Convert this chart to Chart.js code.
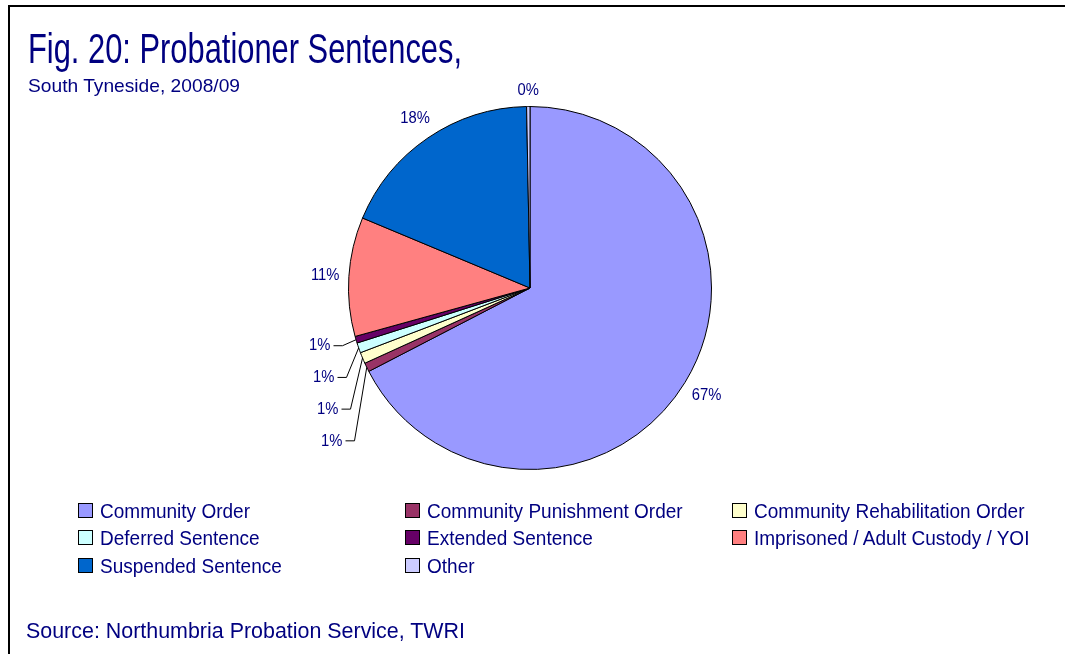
<!DOCTYPE html>
<html><head><meta charset="utf-8">
<script src="https://cdn.jsdelivr.net/npm/chart.js"></script>
<style>
html,body{margin:0;padding:0;background:#fff;}
#wrap{position:relative;width:1065px;height:654px;overflow:hidden;font-family:"Liberation Sans",Arial,sans-serif;color:#000080;background:#fff;}
#frame{position:absolute;left:8px;top:5px;width:1200px;height:800px;border-left:2px solid #000;border-top:2px solid #000;box-sizing:border-box;}
#c{position:absolute;left:0;top:0;}
.txt{position:absolute;white-space:nowrap;transform-origin:0 0;line-height:1;}
.sw{position:absolute;width:15px;height:15px;box-sizing:border-box;border:1.5px solid #000;}
</style>
</head><body>
<div id="wrap">
  <div id="frame"></div>
  <canvas id="c" width="1065" height="654"></canvas>
  <div id="title" class="txt" style="left:28px;font-size:42px;"></div>
  <div id="subtitle" class="txt" style="left:28px;font-size:19px;"></div>
  <div id="source" class="txt" style="left:26px;font-size:22px;"></div>
  <div id="legend"></div>
</div>
<script>
// ---- data ----
const titleText = "Fig. 20: Probationer Sentences,";
const subtitleText = "South Tyneside, 2008/09";
const sourceText = "Source: Northumbria Probation Service, TWRI";
const categories = ["Community Order","Community Punishment Order","Community Rehabilitation Order","Deferred Sentence","Extended Sentence","Imprisoned / Adult Custody / YOI","Suspended Sentence","Other"];
const values = [67.4, 0.8, 1.0, 0.9, 0.6, 10.6, 18.4, 0.3];
const colors = ["#9999FF","#993366","#FFFFCC","#CCFFFF","#660066","#FF8080","#0066CC","#CCCCFF"];

// ---- text placement (baseline based) ----
function placeText(el, text, baseline, targetW){
  el.textContent = text;
  const fs = parseFloat(el.style.fontSize);
  el.style.top = (baseline - 0.846*fs) + "px";
  const w = el.getBoundingClientRect().width;
  if (targetW) el.style.transform = "scaleX(" + (targetW / w) + ")";
  return targetW ? targetW / w : 1;
}
placeText(document.getElementById("title"), titleText, 64, 434);
placeText(document.getElementById("subtitle"), subtitleText, 92, 212);
placeText(document.getElementById("source"), sourceText, 639, 439);

// legend
const legend = document.getElementById("legend");
const colX = [78, 405, 732];
const rowY = [510, 537.5, 565];
let legScale = null;
categories.forEach((name, i) => {
  const col = i % 3, row = Math.floor(i / 3);
  const sw = document.createElement("div");
  sw.className = "sw";
  sw.style.left = colX[col] + "px";
  sw.style.top = (rowY[row] - 7.5) + "px";
  sw.style.background = colors[i];
  legend.appendChild(sw);
  const t = document.createElement("div");
  t.className = "txt";
  t.style.fontSize = "20px";
  t.style.left = (colX[col] + 22) + "px";
  t.textContent = name;
  t.style.top = (rowY[row] + 7.5 - 0.846*20) + "px";
  legend.appendChild(t);
  if (legScale === null) {
    legScale = 150 / t.getBoundingClientRect().width;
  }
  t.style.transform = "scaleX(" + legScale + ")";
});

// ---- data label plugin ----
const labelPlugin = {
  id: "pieLabels",
  afterDatasetsDraw(chart) {
    const ctx = chart.ctx;
    const meta = chart.getDatasetMeta(0);
    const total = values.reduce((a, b) => a + b, 0);
    ctx.save();
    ctx.font = "17px 'Liberation Sans', Arial, sans-serif";
    ctx.fillStyle = "#000080";
    ctx.strokeStyle = "#000";
    ctx.lineWidth = 1;
    const sx = 0.87;
    const leaders = [];
    meta.data.forEach((arc, i) => {
      const frac = values[i] / total;
      const mid = (arc.startAngle + arc.endAngle) / 2; // canvas angle
      let deg = ((mid + Math.PI / 2) * 180 / Math.PI) % 360;
      if (deg < 0) deg += 360;
      const txt = Math.round(frac * 100) + "%";
      if (frac < 0.015 && deg > 180 && deg < 270) {
        leaders.push({arc, mid, txt, deg});
        return;
      }
      const c = Math.cos(mid), s = Math.sin(mid);
      const w = ctx.measureText(txt).width * sx, h = 14;
      const d = arc.outerRadius + 9 + Math.abs(c) * w / 2 + Math.abs(s) * h / 2;
      const x = arc.x + c * d, y = arc.y + s * d;
      ctx.save();
      ctx.translate(x, y);
      ctx.scale(sx, 1);
      ctx.textAlign = "center";
      ctx.textBaseline = "middle";
      ctx.fillText(txt, 0, 0);
      ctx.restore();
    });
    leaders.sort((a, b) => b.deg - a.deg);
    leaders.forEach((L, k) => {
      const arc = L.arc;
      const ex = arc.x + Math.cos(L.mid) * arc.outerRadius;
      const ey = arc.y + Math.sin(L.mid) * arc.outerRadius;
      const first = leaders[0];
      const fy = first.arc.y + Math.sin(first.mid) * first.arc.outerRadius;
      const tx = arc.x - arc.outerRadius - 18 + 4 * k;
      const ty = fy + 6 + 31.7 * k;
      ctx.beginPath();
      ctx.moveTo(tx + 3, ty);
      ctx.lineTo(tx + 12, ty);
      ctx.lineTo(ex, ey);
      ctx.stroke();
      ctx.save();
      ctx.translate(tx, ty);
      ctx.scale(sx, 1);
      ctx.textAlign = "right";
      ctx.textBaseline = "middle";
      ctx.fillText(L.txt, 0, 0);
      ctx.restore();
    });
    ctx.restore();
  }
};

new Chart(document.getElementById("c"), {
  type: "pie",
  data: {
    labels: categories,
    datasets: [{
      data: values,
      backgroundColor: colors,
      borderColor: "#000000",
      borderWidth: 1
    }]
  },
  options: {
    responsive: false,
    animation: false,
    layout: { padding: { left: 348, right: 353, top: 106, bottom: 184 } },
    plugins: { legend: { display: false }, tooltip: { enabled: true } }
  },
  plugins: [labelPlugin]
});
</script>
</body></html>
